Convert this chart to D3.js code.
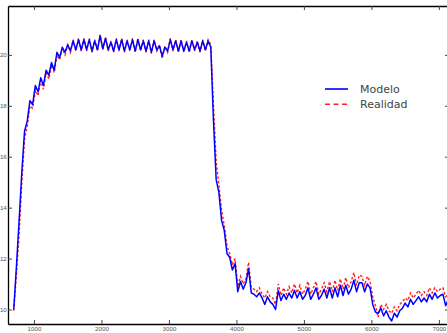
<!DOCTYPE html>
<html>
<head>
<meta charset="utf-8">
<script src="https://cdn.jsdelivr.net/npm/d3@7"></script>
<style>
  body { margin: 0; background: #fff; }
  svg { display: block; }
  .axis path { stroke: #000; stroke-width: 1.3; }
  .axis line { stroke: #444; }
  .axis text { font-family: "Liberation Sans", sans-serif; font-size: 6.2px; fill: #555; }
</style>
</head>
<body>
<svg id="chart"></svg>
<script>
// time axis: first sample and spacing between samples
const t0 = 700;
const step = 40;

const modelo = [
  10.0, 11.7, 13.5, 15.4, 17.0, 17.4, 18.2, 18.05, 18.8, 18.55,
  19.1, 18.8, 19.4, 19.2, 19.7, 19.4, 20.1, 19.9, 20.3, 20.1,
  20.4, 20.15, 20.55, 20.2, 20.6, 20.2, 20.6, 20.2, 20.6, 20.15,
  20.55, 20.2, 20.75, 20.25, 20.65, 20.2, 20.5, 20.15, 20.6, 20.2,
  20.6, 20.15, 20.55, 20.2, 20.6, 20.15, 20.6, 20.2, 20.55, 20.15,
  20.55, 20.1, 20.55, 20.2, 20.35, 19.95, 20.3, 20.15, 20.6, 20.2,
  20.55, 20.15, 20.55, 20.15, 20.5, 20.15, 20.55, 20.2, 20.5, 20.15,
  20.55, 20.2, 20.55, 20.3, 17.4, 15.1, 14.6, 13.5, 13.1, 12.2,
  12.05, 11.55, 11.8, 10.7, 11.1, 10.8, 11.05, 11.6, 10.65, 10.6,
  10.5, 10.65, 10.45, 10.2, 10.5, 10.3, 10.2, 10.0, 10.75, 10.35,
  10.6, 10.4, 10.65, 10.45, 10.75, 10.45, 10.7, 10.4, 10.55, 10.85,
  10.4, 10.6, 10.85, 10.4, 10.55, 10.8, 10.45, 10.85, 10.45, 10.85,
  10.5, 10.95, 10.55, 10.95, 10.6, 10.8, 11.15, 10.7, 11.05, 11.05,
  10.7, 11.0, 10.85, 10.2, 9.9, 9.85, 10.05, 9.75, 9.95, 9.7,
  9.55, 9.85, 9.7, 9.95, 10.05, 10.25, 10.1, 10.4, 10.2, 10.35,
  10.5, 10.3, 10.45, 10.3, 10.6, 10.4, 10.65, 10.45, 10.55, 10.6,
  10.15, 10.4
];

const realidad = [
  9.95, 11.4, 13.0, 15.0, 16.7, 17.2, 18.0, 17.9, 18.6, 18.4,
  19.0, 18.65, 19.3, 19.05, 19.6, 19.3, 20.0, 19.8, 20.25, 20.0,
  20.4, 20.1, 20.6, 20.15, 20.65, 20.15, 20.65, 20.15, 20.65, 20.1,
  20.6, 20.15, 20.8, 20.2, 20.7, 20.15, 20.55, 20.1, 20.65, 20.15,
  20.65, 20.1, 20.6, 20.15, 20.65, 20.1, 20.65, 20.15, 20.6, 20.1,
  20.6, 20.05, 20.6, 20.15, 20.4, 19.85, 20.35, 20.1, 20.65, 20.15,
  20.6, 20.1, 20.6, 20.1, 20.55, 20.1, 20.6, 20.15, 20.55, 20.1,
  20.6, 20.15, 20.6, 20.4, 18.0, 15.8, 14.9, 13.9, 13.3, 12.5,
  12.2, 11.75, 12.0, 10.9, 11.3, 11.0, 11.2, 11.85, 10.85, 10.8,
  10.7, 10.85, 10.6, 10.45, 10.7, 10.5, 10.45, 10.2, 11.0, 10.55,
  10.85, 10.6, 10.9, 10.65, 11.0, 10.65, 10.95, 10.6, 10.8, 11.1,
  10.6, 10.85, 11.1, 10.6, 10.8, 11.05, 10.7, 11.1, 10.7, 11.15,
  10.75, 11.2, 10.8, 11.25, 10.85, 11.1, 11.45, 10.95, 11.35, 11.3,
  10.95, 11.3, 11.1, 10.5, 10.15, 9.7, 10.2, 10.0, 10.2, 9.95,
  9.85, 10.1, 9.95, 10.2, 10.3, 10.45, 10.35, 10.65, 10.45, 10.6,
  10.75, 10.55, 10.7, 10.55, 10.85, 10.65, 10.85, 10.7, 10.8, 10.85,
  10.5, 10.6
];

const xTicks = [1000, 2000, 3000, 4000, 5000, 6000, 7000];
const yTicks = [10, 12, 14, 16, 18, 20];
const seriesNames = ['Modelo', 'Realidad'];

const width = 447;
const height = 333;
const plotL = 8, plotT = 6, plotR = 448, plotB = 324;

const x = d3.scaleLinear().domain([615, 7135]).range([plotL, plotR]);
const y = d3.scaleLinear().domain([9.43, 21.92]).range([plotB, plotT]);

const svg = d3.select('#chart')
  .attr('width', width)
  .attr('height', height);

svg.append('clipPath').attr('id', 'plot')
  .append('rect')
  .attr('x', plotL).attr('y', plotT)
  .attr('width', plotR - plotL).attr('height', plotB - plotT);

const line = d3.line()
  .x((d, i) => x(t0 + i * step))
  .y((d) => y(d));

svg.append('path')
  .datum(realidad)
  .attr('clip-path', 'url(#plot)')
  .attr('fill', 'none')
  .attr('stroke', '#ff2020')
  .attr('stroke-width', 1.4)
  .attr('stroke-dasharray', '2.5,2')
  .attr('d', line);

svg.append('path')
  .datum(modelo)
  .attr('clip-path', 'url(#plot)')
  .attr('fill', 'none')
  .attr('stroke', '#0000ff')
  .attr('stroke-width', 1.5)
  .attr('stroke-linejoin', 'round')
  .attr('d', line);

// frame with inward ticks
svg.append('g').attr('class', 'axis')
  .attr('transform', 'translate(0,' + plotB + ')')
  .call(d3.axisBottom(x).tickValues(xTicks).tickSize(-4).tickSizeOuter(0)
    .tickPadding(3).tickFormat(d3.format('d')));
svg.append('g').attr('class', 'axis')
  .attr('transform', 'translate(0,' + plotT + ')')
  .call(d3.axisTop(x).tickValues(xTicks).tickSize(-4).tickSizeOuter(0).tickFormat(''));
svg.append('g').attr('class', 'axis')
  .attr('transform', 'translate(' + plotL + ',0)')
  .call(d3.axisLeft(y).tickValues(yTicks).tickSize(-4).tickSizeOuter(0)
    .tickPadding(1.2).tickFormat(d3.format('d')));
svg.append('g').attr('class', 'axis')
  .attr('transform', 'translate(' + plotR + ',0)')
  .call(d3.axisRight(y).tickValues(yTicks).tickSize(-3).tickSizeOuter(0).tickFormat(''));

// legend
const legend = svg.append('g').attr('transform', 'translate(325,89)');
const styles = [
  { stroke: '#0000ff', dash: null, w: 1.6 },
  { stroke: '#ff2020', dash: '5,3.5', w: 1.5 }
];
seriesNames.forEach((name, i) => {
  const g = legend.append('g').attr('transform', 'translate(0,' + i * 15.3 + ')');
  g.append('line')
    .attr('x1', 0).attr('x2', 23)
    .attr('stroke', styles[i].stroke)
    .attr('stroke-width', styles[i].w)
    .attr('stroke-dasharray', styles[i].dash);
  g.append('text')
    .attr('x', 35).attr('y', 3.5)
    .attr('font-family', '"DejaVu Sans", sans-serif')
    .attr('font-size', 11)
    .attr('fill', '#444')
    .text(name);
});
</script>
</body>
</html>
